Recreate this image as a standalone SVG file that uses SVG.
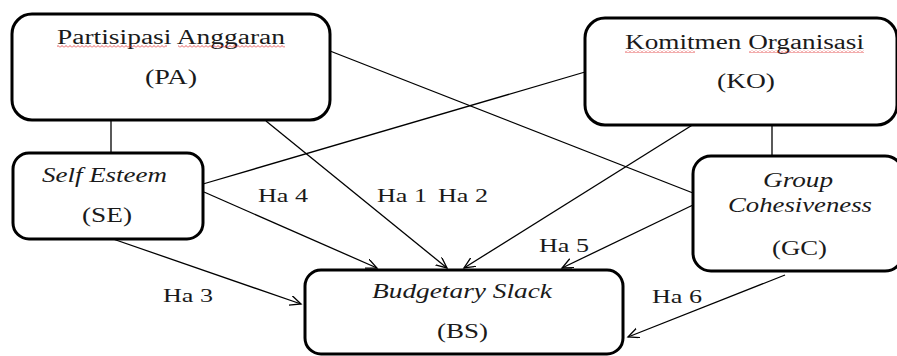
<svg xmlns="http://www.w3.org/2000/svg" width="897" height="356" viewBox="0 0 897 356" font-family="Liberation Serif, serif">
<style>
.box{fill:#fff;stroke:#000;stroke-width:3}
.t{font-size:20px;fill:#1a1a1a}
.i{font-style:italic}
.lbl{font-size:18px;fill:#1a1a1a}
.c{stroke:#000;stroke-width:1.3;fill:none}
.sq{fill:url(#wavy)}
</style>
<defs>
<marker id="arr" markerUnits="userSpaceOnUse" markerWidth="14" markerHeight="12" refX="11" refY="5" orient="auto">
<path d="M0,0 L11,5 L0,10" fill="none" stroke="#000" stroke-width="1.3"/>
</marker>
<pattern id="wavy" width="4" height="3" patternUnits="userSpaceOnUse">
<path d="M0,2.5 L2,0.5 L4,2.5" fill="none" stroke="#e03030" stroke-width="0.8"/>
</pattern>
</defs>
<g id="connectors">
<line class="c" x1="111" y1="120" x2="111" y2="153"/>
<line class="c" x1="772" y1="125" x2="772" y2="156"/>
<line class="c" x1="330" y1="51" x2="693" y2="193"/>
<line class="c" x1="585" y1="72" x2="203" y2="184"/>
<line class="c" x1="266" y1="121" x2="447" y2="268" marker-end="url(#arr)"/>
<line class="c" x1="694" y1="124" x2="464" y2="268" marker-end="url(#arr)"/>
<line class="c" x1="693" y1="205" x2="562" y2="268" marker-end="url(#arr)"/>
<line class="c" x1="204" y1="192" x2="377" y2="268" marker-end="url(#arr)"/>
<line class="c" x1="113" y1="239" x2="301" y2="304" marker-end="url(#arr)"/>
<line class="c" x1="785" y1="275" x2="628" y2="337" marker-end="url(#arr)"/>
</g>
<g id="PA">
<rect class="box" x="12" y="14" width="318" height="106" rx="20"/>
<text class="t" font-family="Liberation Serif" x="57" y="44" textLength="228" lengthAdjust="spacingAndGlyphs" font-size="21">Partisipasi Anggaran</text>
<rect class="sq" x="57" y="45" width="110" height="3"/>
<rect class="sq" x="178" y="45" width="107" height="3"/>
<text class="t" font-family="Liberation Serif" x="145" y="84" textLength="52" lengthAdjust="spacingAndGlyphs">(PA)</text>
</g>
<g id="KO">
<rect class="box" x="585" y="18" width="312" height="107" rx="20"/>
<text class="t" font-family="Liberation Serif" x="625" y="49" textLength="239" lengthAdjust="spacingAndGlyphs">Komitmen Organisasi</text>
<rect class="sq" x="625" y="50" width="70" height="3"/>
<rect class="sq" x="749" y="50" width="115" height="3"/>
<text class="t" font-family="Liberation Serif" x="717" y="88" textLength="58" lengthAdjust="spacingAndGlyphs">(KO)</text>
</g>
<g id="SE">
<rect class="box" x="13" y="153" width="190" height="86" rx="16"/>
<text class="t i" font-family="Liberation Serif" x="42" y="182" textLength="125" lengthAdjust="spacingAndGlyphs">Self Esteem</text>
<text class="t" font-family="Liberation Serif" x="82" y="222" textLength="50" lengthAdjust="spacingAndGlyphs">(SE)</text>
</g>
<g id="GC">
<rect class="box" x="693" y="156" width="210" height="115" rx="18"/>
<text class="t i" font-family="Liberation Serif" x="763" y="187" textLength="70" lengthAdjust="spacingAndGlyphs">Group</text>
<text class="t i" font-family="Liberation Serif" x="728" y="212" textLength="144" lengthAdjust="spacingAndGlyphs">Cohesiveness</text>
<text class="t" font-family="Liberation Serif" x="772" y="255" textLength="55" lengthAdjust="spacingAndGlyphs">(GC)</text>
</g>
<g id="BS">
<rect class="box" x="305" y="270" width="318" height="84" rx="16"/>
<text class="t i" font-family="Liberation Serif" x="372" y="298" textLength="180" lengthAdjust="spacingAndGlyphs">Budgetary Slack</text>
<text class="t" font-family="Liberation Serif" x="437" y="338" textLength="51" lengthAdjust="spacingAndGlyphs">(BS)</text>
</g>
<g id="labels" font-family="Liberation Serif">
<text class="lbl" x="258" y="202" textLength="50" lengthAdjust="spacingAndGlyphs">Ha 4</text>
<text class="lbl" x="377" y="202" textLength="50" lengthAdjust="spacingAndGlyphs">Ha 1</text>
<text class="lbl" x="438" y="202" textLength="50" lengthAdjust="spacingAndGlyphs">Ha 2</text>
<text class="lbl" x="163" y="302" textLength="50" lengthAdjust="spacingAndGlyphs">Ha 3</text>
<text class="lbl" x="539" y="252" textLength="50" lengthAdjust="spacingAndGlyphs">Ha 5</text>
<text class="lbl" x="652" y="303" textLength="50" lengthAdjust="spacingAndGlyphs">Ha 6</text>
</g>
</svg>
